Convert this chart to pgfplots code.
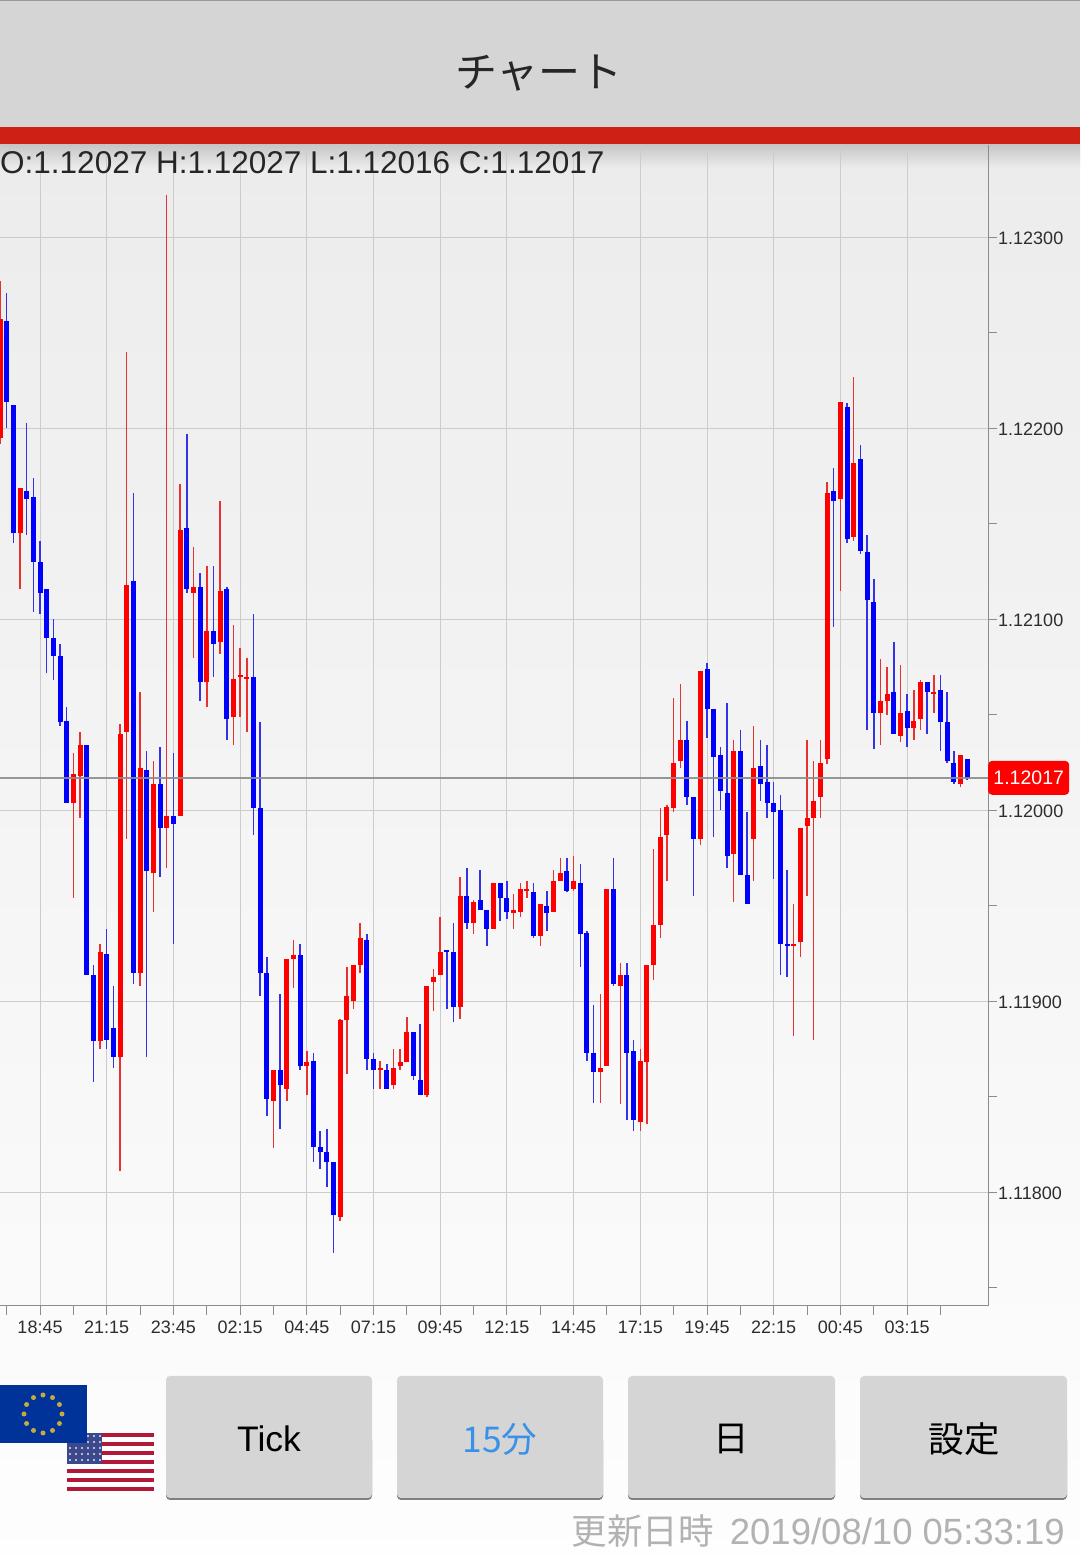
\documentclass[border=0pt]{standalone}
\usepackage{fontspec}
\usepackage{pgfplots}
\usepackage{pgfplotstable}
\pgfplotsset{compat=1.18}
\setmainfont{Liberation Sans}
\newfontfamily\cjk{Noto Sans CJK JP}
\newcommand{\fs}[1]{\fontsize{#1}{#1}\selectfont}
\pgfdeclareplotmark{nothing}{}

\definecolor{candlered}{RGB}{255,0,0}
\definecolor{candleblue}{RGB}{0,0,255}
\definecolor{wickred}{RGB}{232,50,50}
\definecolor{wickblue}{RGB}{50,50,232}
\definecolor{gridgray}{RGB}{204,204,204}
\definecolor{axisgray}{RGB}{140,140,140}
\definecolor{barred}{RGB}{207,32,21}
\definecolor{panel}{RGB}{213,213,213}
\definecolor{labeltext}{RGB}{45,45,45}
\definecolor{eublue}{RGB}{0,51,153}
\definecolor{eugold}{RGB}{200,170,60}
\definecolor{usred}{RGB}{178,24,56}
\definecolor{usblue}{RGB}{60,72,140}

% 15 minute candles, n is the bar number, prices are the digits after "1." (12017 = 1.12017)
\pgfplotstableread{
n o h l c
0 12195 12277 12192 12257
3 12145 12169 12116 12169
11 12004 12030 11954 12019
12 12018 12041 11996 12034
15 11879 11930 11875 11926
18 11871 12045 11811 12040
19 12041 12240 11985 12118
21 11915 12062 11908 12022
23 11967 12026 11947 12014
25 11991 12322 11970 11997
27 11997 12171 11997 12147
29 12114 12138 12080 12117
31 12067 12128 12054 12094
33 12088 12162 12082 12115
35 12049 12097 12034 12069
36 12070 12085 12049 12071
37 12069 12080 12041 12070
41 11848 11864 11823 11864
43 11854 11922 11848 11922
44 11922 11932 11907 11924
46 11866 11874 11851 11868
51 11787 11891 11785 11890
52 11890 11918 11862 11903
53 11900 11919 11896 11919
54 11919 11941 11915 11933
57 11864 11869 11854 11865
59 11856 11875 11854 11865
60 11866 11875 11864 11868
61 11868 11892 11868 11884
64 11851 11908 11850 11908
65 11910 11917 11895 11913
66 11914 11944 11914 11926
69 11897 11965 11891 11955
71 11941 11953 11935 11952
74 11938 11962 11938 11962
77 11946 11956 11938 11948
78 11947 11962 11944 11959
79 11958 11963 11954 11959
81 11934 11951 11929 11951
83 11947 11969 11947 11963
84 11963 11975 11963 11967
86 11959 11976 11958 11963
90 11863 11904 11847 11865
91 11866 11959 11866 11959
93 11908 11920 11846 11914
96 11837 11875 11832 11869
97 11868 11919 11836 11919
98 11919 11980 11911 11940
99 11940 12001 11933 11986
100 11987 12003 11963 12002
101 12001 12059 11999 12025
102 12026 12066 12022 12037
105 11985 12073 11982 12073
110 11977 12037 11952 12031
113 11985 12044 11963 12022
119 11929 11951 11882 11930
120 11931 11991 11923 11991
121 11992 12037 11955 11996
122 11996 12026 11880 12005
123 12007 12037 11996 12025
124 12027 12172 12024 12166
126 12163 12214 12115 12214
128 12143 12227 12141 12182
132 12051 12079 12034 12057
133 12057 12075 12050 12061
135 12039 12076 12036 12051
137 12043 12063 12037 12047
138 12048 12068 12042 12067
140 12061 12071 12051 12062
144 12014 12029 12012 12029
}\candlesUp

\pgfplotstableread{
n o h l c
1 12256 12271 12200 12214
2 12212 12212 12140 12145
4 12167 12203 12144 12163
5 12164 12174 12104 12130
6 12130 12141 12103 12114
7 12116 12116 12072 12090
8 12090 12100 12068 12081
9 12081 12087 12044 12046
10 12047 12054 12004 12004
13 12034 12034 11914 11914
14 11914 11919 11858 11879
16 11925 11938 11875 11880
17 11886 11908 11865 11871
20 12120 12166 11909 11915
22 12021 12031 11871 11968
24 12014 12033 11965 11991
26 11997 12030 11930 11993
28 12148 12197 12114 12116
30 12117 12124 12057 12067
32 12094 12128 12070 12087
34 12116 12117 12037 12048
38 12070 12103 11987 12001
39 12001 12046 11903 11915
40 11915 11923 11840 11849
42 11864 11904 11833 11856
45 11924 11930 11864 11866
47 11869 11873 11816 11824
48 11824 11832 11812 11821
49 11821 11833 11803 11816
50 11816 11816 11768 11788
55 11932 11935 11864 11870
56 11870 11873 11854 11864
58 11864 11867 11854 11854
62 11884 11884 11859 11861
63 11859 11888 11851 11851
67 11927 11927 11896 11926
68 11926 11941 11889 11897
70 11955 11970 11938 11941
72 11953 11969 11948 11948
73 11948 11948 11929 11938
75 11962 11962 11942 11954
76 11954 11963 11943 11947
80 11957 11962 11933 11934
82 11950 11958 11937 11946
85 11968 11975 11957 11958
87 11962 11972 11918 11935
88 11936 11937 11869 11873
89 11873 11898 11847 11863
92 11959 11975 11908 11909
94 11914 11920 11838 11873
95 11874 11880 11832 11838
103 12037 12047 12003 12007
104 12007 12007 11955 11985
106 12074 12077 12038 12053
107 12053 12053 11986 12028
108 12029 12033 12000 12010
109 12009 12056 11970 11976
111 12031 12042 11966 11966
112 11966 11999 11951 11951
114 12023 12037 12005 12014
115 12015 12034 11996 12004
116 12004 12015 11964 11999
117 12000 12008 11914 11930
118 11930 11969 11913 11929
125 12167 12179 12096 12162
127 12211 12213 12140 12142
129 12184 12191 12134 12136
130 12135 12144 12042 12110
131 12109 12121 12032 12051
134 12062 12088 12040 12040
136 12052 12061 12033 12043
139 12067 12067 12040 12062
141 12063 12071 12031 12046
142 12046 12062 12025 12026
143 12025 12031 12014 12015
145 12027 12027 12016 12017
}\candlesDown

\begin{document}
\begin{tikzpicture}[x=1pt,y=1pt]
\useasboundingbox (0,0) rectangle (1080,1556);

% screen background and header
\shade[top color=black!7.5, bottom color=black!0.5] (0,0) rectangle (1080,1411);
\fill[panel] (0,1429) rectangle (1080,1556);
\fill[gray!80] (0,1555) rectangle (1080,1556);
\fill[barred] (0,1411) rectangle (1080,1429);
\shade[top color=black!22, bottom color=black!7.5] (0,1388) rectangle (1080,1411);

\begin{axis}[
    at={(0pt,250pt)}, anchor=south west,
    scale only axis,
    width=988pt, height=1161pt,
    xmin=0, xmax=148.13,
    ymin=11740.5, ymax=12348.3,
    scaled y ticks=false,
    axis x line*=bottom,
    axis y line*=right,
    axis line style={draw=axisgray, line width=1pt},
    tick align=outside,
    major tick length=9pt,
    minor tick length=9pt,
    every tick/.style={draw=axisgray, line width=1pt},
    minor tick style={draw=axisgray, line width=1pt},
    xtick={6,16,...,136},
    xticklabels={18:45,21:15,23:45,02:15,04:45,07:15,09:45,12:15,14:45,17:15,19:45,22:15,00:45,03:15},
    minor xtick={1,11,21,...,141},
    ytick={11800,11900,...,12300},
    yticklabels={1.11800,1.11900,1.12000,1.12100,1.12200,1.12300},
    minor ytick={11750,11850,...,12250},
    xmajorgrids, ymajorgrids,
    major grid style={draw=gridgray, line width=1pt},
    x tick label style={font=\fs{18}, text=labeltext, yshift=-6pt},
    y tick label style={font=\fs{18}, text=labeltext, anchor=west, xshift=1pt, yshift=-1pt},
    tick label style={inner sep=0pt},
    error bars/error mark=nothing,
]
  % wicks
  \addplot[forget plot, draw=none, mark=none,
    error bars/.cd, y dir=both, y explicit,
    error bar style={draw=wickred, line width=1.5pt}]
    table[x=n, y=o, y error plus expr=\thisrow{h}-\thisrow{o}, y error minus expr=\thisrow{o}-\thisrow{l}] {\candlesUp};
  \addplot[forget plot, draw=none, mark=none,
    error bars/.cd, y dir=both, y explicit,
    error bar style={draw=wickblue, line width=1.5pt}]
    table[x=n, y=o, y error plus expr=\thisrow{h}-\thisrow{o}, y error minus expr=\thisrow{o}-\thisrow{l}] {\candlesDown};
  % bodies
  \addplot[forget plot, draw=none, mark=none,
    error bars/.cd, y dir=plus, y explicit,
    error bar style={draw=candlered, line width=5pt}]
    table[x=n, y=o, y error plus expr=\thisrow{c}-\thisrow{o}] {\candlesUp};
  \addplot[forget plot, draw=none, mark=none,
    error bars/.cd, y dir=plus, y explicit,
    error bar style={draw=candleblue, line width=5pt}]
    table[x=n, y=c, y error plus expr=\thisrow{o}-\thisrow{c}] {\candlesDown};
  % last price
  \addplot[forget plot, draw=axisgray, line width=2pt, opacity=0.9] coordinates {(0,12017) (148.13,12017)};
  \coordinate (lastprice) at (axis cs:148.13,12017);
\end{axis}

% last price tag
\node[fill=red, text=white, rounded corners=4pt, anchor=west, minimum width=81pt, minimum height=34pt,
      inner sep=0pt, font=\fs{19.5}] at (lastprice) {1.12017};

% header texts
\node[font=\cjk\fs{42}, text=black!85] at (539,1483) {チャート};
\node[anchor=base west, inner sep=0pt, font=\fs{31.5}, text=black!85] at (0,1382) {O:1.12027 H:1.12027 L:1.12016 C:1.12017};

% US flag, stripes and canton
\fill[white] (67,65) rectangle (154,123);
\foreach \i in {0,2,...,12} \fill[usred] (67,{123-\i*4.46}) rectangle (154,{123-(\i+1)*4.46});
\fill[usblue] (67,92) rectangle (102,123);
\foreach \i in {0,...,5} \foreach \j in {0,...,4}
  \fill[white!85!usblue] ({70+\i*6},{96+\j*6}) circle (1.1);
% EU flag
\fill[eublue] (0,113) rectangle (86.5,171);
\foreach \a in {0,30,...,330} \fill[eugold] ({43+19*cos(\a)},{142+19*sin(\a)}) circle (2.5);

% buttons
\foreach \xa/\xb in {166/372,397/603,628/835,860/1067} {
  \fill[black!50, rounded corners=4pt] (\xa,56) rectangle (\xb,120);
  \fill[panel, rounded corners=4pt] (\xa,58) rectangle (\xb,180);
}
\node[font=\fs{35.5}] at (269,117) {Tick};
\node[font=\cjk\fs{35.5}, text={rgb,255:red,58;green,146;blue,232}] at (500,117) {15分};
\node[font=\cjk\fs{35.5}] at (731,117) {日};
\node[font=\cjk\fs{35.5}] at (964,117) {設定};

% update time
\node[anchor=base east, inner sep=0pt, text=black!30] at (1065,11)
  {{\cjk\fs{35.5}更新日時}\hspace{16pt}{\fs{36.5}2019/08/10 05:33:19}};
\end{tikzpicture}
\end{document}
